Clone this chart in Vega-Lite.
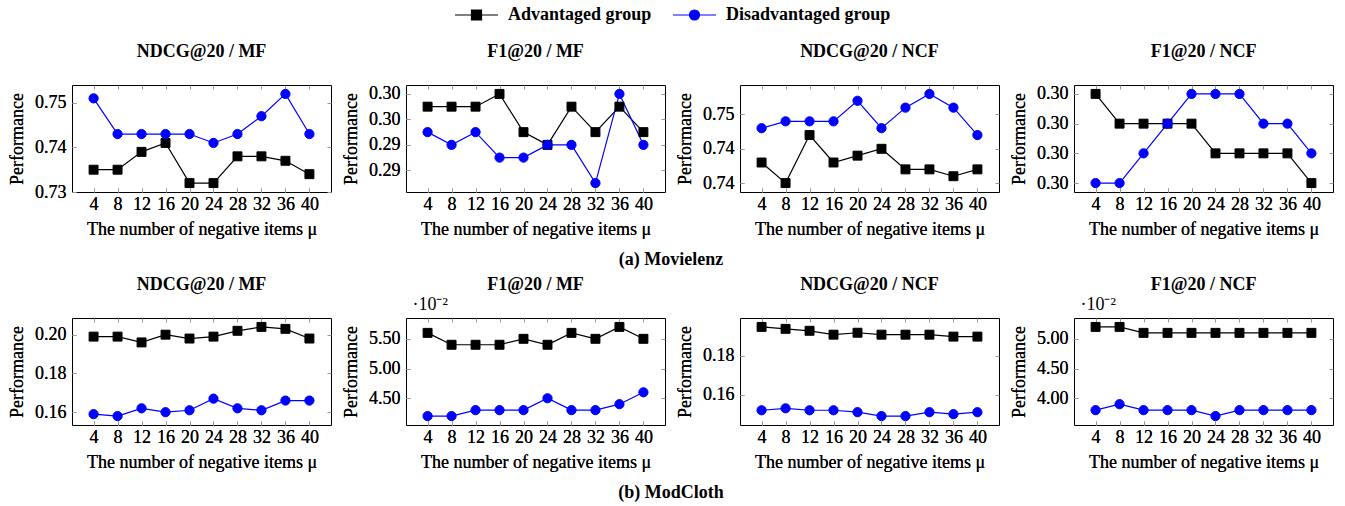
{
  "$schema": "https://vega.github.io/schema/vega-lite/v6.json",
  "padding": {"left": 8, "top": 6, "right": 5, "bottom": 3},
  "data": {"values": [
    {"p":"A1","group":"Advantaged group","mu":4,"v":0.735},{"p":"A1","group":"Advantaged group","mu":8,"v":0.735},{"p":"A1","group":"Advantaged group","mu":12,"v":0.739},{"p":"A1","group":"Advantaged group","mu":16,"v":0.741},{"p":"A1","group":"Advantaged group","mu":20,"v":0.732},{"p":"A1","group":"Advantaged group","mu":24,"v":0.732},{"p":"A1","group":"Advantaged group","mu":28,"v":0.738},{"p":"A1","group":"Advantaged group","mu":32,"v":0.738},{"p":"A1","group":"Advantaged group","mu":36,"v":0.737},{"p":"A1","group":"Advantaged group","mu":40,"v":0.734},
    {"p":"A1","group":"Disadvantaged group","mu":4,"v":0.751},{"p":"A1","group":"Disadvantaged group","mu":8,"v":0.743},{"p":"A1","group":"Disadvantaged group","mu":12,"v":0.743},{"p":"A1","group":"Disadvantaged group","mu":16,"v":0.743},{"p":"A1","group":"Disadvantaged group","mu":20,"v":0.743},{"p":"A1","group":"Disadvantaged group","mu":24,"v":0.741},{"p":"A1","group":"Disadvantaged group","mu":28,"v":0.743},{"p":"A1","group":"Disadvantaged group","mu":32,"v":0.747},{"p":"A1","group":"Disadvantaged group","mu":36,"v":0.752},{"p":"A1","group":"Disadvantaged group","mu":40,"v":0.743},
    {"p":"A2","group":"Advantaged group","mu":4,"v":0.297},{"p":"A2","group":"Advantaged group","mu":8,"v":0.297},{"p":"A2","group":"Advantaged group","mu":12,"v":0.297},{"p":"A2","group":"Advantaged group","mu":16,"v":0.298},{"p":"A2","group":"Advantaged group","mu":20,"v":0.295},{"p":"A2","group":"Advantaged group","mu":24,"v":0.294},{"p":"A2","group":"Advantaged group","mu":28,"v":0.297},{"p":"A2","group":"Advantaged group","mu":32,"v":0.295},{"p":"A2","group":"Advantaged group","mu":36,"v":0.297},{"p":"A2","group":"Advantaged group","mu":40,"v":0.295},
    {"p":"A2","group":"Disadvantaged group","mu":4,"v":0.295},{"p":"A2","group":"Disadvantaged group","mu":8,"v":0.294},{"p":"A2","group":"Disadvantaged group","mu":12,"v":0.295},{"p":"A2","group":"Disadvantaged group","mu":16,"v":0.293},{"p":"A2","group":"Disadvantaged group","mu":20,"v":0.293},{"p":"A2","group":"Disadvantaged group","mu":24,"v":0.294},{"p":"A2","group":"Disadvantaged group","mu":28,"v":0.294},{"p":"A2","group":"Disadvantaged group","mu":32,"v":0.291},{"p":"A2","group":"Disadvantaged group","mu":36,"v":0.298},{"p":"A2","group":"Disadvantaged group","mu":40,"v":0.294},
    {"p":"A3","group":"Advantaged group","mu":4,"v":0.7432},{"p":"A3","group":"Advantaged group","mu":8,"v":0.742},{"p":"A3","group":"Advantaged group","mu":12,"v":0.7448},{"p":"A3","group":"Advantaged group","mu":16,"v":0.7432},{"p":"A3","group":"Advantaged group","mu":20,"v":0.7436},{"p":"A3","group":"Advantaged group","mu":24,"v":0.744},{"p":"A3","group":"Advantaged group","mu":28,"v":0.7428},{"p":"A3","group":"Advantaged group","mu":32,"v":0.7428},{"p":"A3","group":"Advantaged group","mu":36,"v":0.7424},{"p":"A3","group":"Advantaged group","mu":40,"v":0.7428},
    {"p":"A3","group":"Disadvantaged group","mu":4,"v":0.7452},{"p":"A3","group":"Disadvantaged group","mu":8,"v":0.7456},{"p":"A3","group":"Disadvantaged group","mu":12,"v":0.7456},{"p":"A3","group":"Disadvantaged group","mu":16,"v":0.7456},{"p":"A3","group":"Disadvantaged group","mu":20,"v":0.7468},{"p":"A3","group":"Disadvantaged group","mu":24,"v":0.7452},{"p":"A3","group":"Disadvantaged group","mu":28,"v":0.7464},{"p":"A3","group":"Disadvantaged group","mu":32,"v":0.7472},{"p":"A3","group":"Disadvantaged group","mu":36,"v":0.7464},{"p":"A3","group":"Disadvantaged group","mu":40,"v":0.7448},
    {"p":"A4","group":"Advantaged group","mu":4,"v":0.3003},{"p":"A4","group":"Advantaged group","mu":8,"v":0.3002},{"p":"A4","group":"Advantaged group","mu":12,"v":0.3002},{"p":"A4","group":"Advantaged group","mu":16,"v":0.3002},{"p":"A4","group":"Advantaged group","mu":20,"v":0.3002},{"p":"A4","group":"Advantaged group","mu":24,"v":0.3001},{"p":"A4","group":"Advantaged group","mu":28,"v":0.3001},{"p":"A4","group":"Advantaged group","mu":32,"v":0.3001},{"p":"A4","group":"Advantaged group","mu":36,"v":0.3001},{"p":"A4","group":"Advantaged group","mu":40,"v":0.3},
    {"p":"A4","group":"Disadvantaged group","mu":4,"v":0.3},{"p":"A4","group":"Disadvantaged group","mu":8,"v":0.3},{"p":"A4","group":"Disadvantaged group","mu":12,"v":0.3001},{"p":"A4","group":"Disadvantaged group","mu":16,"v":0.3002},{"p":"A4","group":"Disadvantaged group","mu":20,"v":0.3003},{"p":"A4","group":"Disadvantaged group","mu":24,"v":0.3003},{"p":"A4","group":"Disadvantaged group","mu":28,"v":0.3003},{"p":"A4","group":"Disadvantaged group","mu":32,"v":0.3002},{"p":"A4","group":"Disadvantaged group","mu":36,"v":0.3002},{"p":"A4","group":"Disadvantaged group","mu":40,"v":0.3001},
    {"p":"B1","group":"Advantaged group","mu":4,"v":0.199},{"p":"B1","group":"Advantaged group","mu":8,"v":0.199},{"p":"B1","group":"Advantaged group","mu":12,"v":0.196},{"p":"B1","group":"Advantaged group","mu":16,"v":0.2},{"p":"B1","group":"Advantaged group","mu":20,"v":0.198},{"p":"B1","group":"Advantaged group","mu":24,"v":0.199},{"p":"B1","group":"Advantaged group","mu":28,"v":0.202},{"p":"B1","group":"Advantaged group","mu":32,"v":0.204},{"p":"B1","group":"Advantaged group","mu":36,"v":0.203},{"p":"B1","group":"Advantaged group","mu":40,"v":0.198},
    {"p":"B1","group":"Disadvantaged group","mu":4,"v":0.159},{"p":"B1","group":"Disadvantaged group","mu":8,"v":0.158},{"p":"B1","group":"Disadvantaged group","mu":12,"v":0.162},{"p":"B1","group":"Disadvantaged group","mu":16,"v":0.16},{"p":"B1","group":"Disadvantaged group","mu":20,"v":0.161},{"p":"B1","group":"Disadvantaged group","mu":24,"v":0.167},{"p":"B1","group":"Disadvantaged group","mu":28,"v":0.162},{"p":"B1","group":"Disadvantaged group","mu":32,"v":0.161},{"p":"B1","group":"Disadvantaged group","mu":36,"v":0.166},{"p":"B1","group":"Disadvantaged group","mu":40,"v":0.166},
    {"p":"B2","group":"Advantaged group","mu":4,"v":0.056},{"p":"B2","group":"Advantaged group","mu":8,"v":0.054},{"p":"B2","group":"Advantaged group","mu":12,"v":0.054},{"p":"B2","group":"Advantaged group","mu":16,"v":0.054},{"p":"B2","group":"Advantaged group","mu":20,"v":0.055},{"p":"B2","group":"Advantaged group","mu":24,"v":0.054},{"p":"B2","group":"Advantaged group","mu":28,"v":0.056},{"p":"B2","group":"Advantaged group","mu":32,"v":0.055},{"p":"B2","group":"Advantaged group","mu":36,"v":0.057},{"p":"B2","group":"Advantaged group","mu":40,"v":0.055},
    {"p":"B2","group":"Disadvantaged group","mu":4,"v":0.042},{"p":"B2","group":"Disadvantaged group","mu":8,"v":0.042},{"p":"B2","group":"Disadvantaged group","mu":12,"v":0.043},{"p":"B2","group":"Disadvantaged group","mu":16,"v":0.043},{"p":"B2","group":"Disadvantaged group","mu":20,"v":0.043},{"p":"B2","group":"Disadvantaged group","mu":24,"v":0.045},{"p":"B2","group":"Disadvantaged group","mu":28,"v":0.043},{"p":"B2","group":"Disadvantaged group","mu":32,"v":0.043},{"p":"B2","group":"Disadvantaged group","mu":36,"v":0.044},{"p":"B2","group":"Disadvantaged group","mu":40,"v":0.046},
    {"p":"B3","group":"Advantaged group","mu":4,"v":0.195},{"p":"B3","group":"Advantaged group","mu":8,"v":0.194},{"p":"B3","group":"Advantaged group","mu":12,"v":0.193},{"p":"B3","group":"Advantaged group","mu":16,"v":0.191},{"p":"B3","group":"Advantaged group","mu":20,"v":0.192},{"p":"B3","group":"Advantaged group","mu":24,"v":0.191},{"p":"B3","group":"Advantaged group","mu":28,"v":0.191},{"p":"B3","group":"Advantaged group","mu":32,"v":0.191},{"p":"B3","group":"Advantaged group","mu":36,"v":0.19},{"p":"B3","group":"Advantaged group","mu":40,"v":0.19},
    {"p":"B3","group":"Disadvantaged group","mu":4,"v":0.152},{"p":"B3","group":"Disadvantaged group","mu":8,"v":0.153},{"p":"B3","group":"Disadvantaged group","mu":12,"v":0.152},{"p":"B3","group":"Disadvantaged group","mu":16,"v":0.152},{"p":"B3","group":"Disadvantaged group","mu":20,"v":0.151},{"p":"B3","group":"Disadvantaged group","mu":24,"v":0.149},{"p":"B3","group":"Disadvantaged group","mu":28,"v":0.149},{"p":"B3","group":"Disadvantaged group","mu":32,"v":0.151},{"p":"B3","group":"Disadvantaged group","mu":36,"v":0.15},{"p":"B3","group":"Disadvantaged group","mu":40,"v":0.151},
    {"p":"B4","group":"Advantaged group","mu":4,"v":0.052},{"p":"B4","group":"Advantaged group","mu":8,"v":0.052},{"p":"B4","group":"Advantaged group","mu":12,"v":0.051},{"p":"B4","group":"Advantaged group","mu":16,"v":0.051},{"p":"B4","group":"Advantaged group","mu":20,"v":0.051},{"p":"B4","group":"Advantaged group","mu":24,"v":0.051},{"p":"B4","group":"Advantaged group","mu":28,"v":0.051},{"p":"B4","group":"Advantaged group","mu":32,"v":0.051},{"p":"B4","group":"Advantaged group","mu":36,"v":0.051},{"p":"B4","group":"Advantaged group","mu":40,"v":0.051},
    {"p":"B4","group":"Disadvantaged group","mu":4,"v":0.038},{"p":"B4","group":"Disadvantaged group","mu":8,"v":0.039},{"p":"B4","group":"Disadvantaged group","mu":12,"v":0.038},{"p":"B4","group":"Disadvantaged group","mu":16,"v":0.038},{"p":"B4","group":"Disadvantaged group","mu":20,"v":0.038},{"p":"B4","group":"Disadvantaged group","mu":24,"v":0.037},{"p":"B4","group":"Disadvantaged group","mu":28,"v":0.038},{"p":"B4","group":"Disadvantaged group","mu":32,"v":0.038},{"p":"B4","group":"Disadvantaged group","mu":36,"v":0.038},{"p":"B4","group":"Disadvantaged group","mu":40,"v":0.038}
  ]},
  "vconcat": [
    {
      "title": {"text": "(a) Movielenz", "orient": "bottom", "anchor": "middle", "offset": 12},
      "spacing": 10,
      "hconcat": [
        {
          "width": 259, "height": 107, "title": "NDCG@20 / MF",
          "transform": [{"filter": "datum.p === 'A1'"}],
          "encoding": {
            "x": {"field": "mu", "type": "quantitative", "scale": {"domain": [0.4, 43.6], "nice": false, "zero": false}, "axis": {"values": [4,8,12,16,20,24,28,32,36,40], "title": "The number of negative items μ"}},
            "y": {"field": "v", "type": "quantitative", "scale": {"domain": [0.73, 0.754], "nice": false, "zero": false}, "axis": {"values": [0.73, 0.74, 0.75], "format": ".2f", "title": "Performance"}},
            "stroke": {"field": "group", "type": "nominal", "title": null, "scale": {"domain": ["Advantaged group", "Disadvantaged group"], "range": ["black", "#0000ff"]},
              "legend": {"title": null, "encode": {"symbols": {"update": {
                "shape": {"signal": "datum.value === 'Advantaged group' ? 'M-1,0H7.6M2.3,-1H4.3V1H2.3Z' : 'M-1,0H7.6M4.3,0A1,1,0,1,1,2.3,0A1,1,0,1,1,4.3,0Z'"},
                "strokeWidth": {"value": 1.2}}}}}}
          },
          "layer": [
            {"mark": {"type": "line", "strokeWidth": 1.2}},
            {"transform": [{"filter": "datum.group === 'Advantaged group'"}],
             "mark": {"type": "point", "shape": "square", "filled": true, "opacity": 1, "size": 80, "strokeWidth": 1},
             "encoding": {
               "x": {"field": "mu", "type": "quantitative", "axis": {"orient": "top", "values": [4,8,12,16,20,24,28,32,36,40], "title": " "}},
               "y": {"field": "v", "type": "quantitative", "axis": {"orient": "right", "values": [0.73, 0.74, 0.75], "title": null}},
               "fill": {"field": "group", "type": "nominal", "title": null, "scale": {"domain": ["Advantaged group", "Disadvantaged group"], "range": ["black", "#0000ff"]},
                 "legend": {"title": null, "encode": {"symbols": {"update": {
                   "shape": {"signal": "datum.value === 'Advantaged group' ? 'M-1,0H7.6M2.3,-1H4.3V1H2.3Z' : 'M-1,0H7.6M4.3,0A1,1,0,1,1,2.3,0A1,1,0,1,1,4.3,0Z'"},
                   "strokeWidth": {"value": 1.2}}}}}}
             }},
            {"transform": [{"filter": "datum.group === 'Disadvantaged group'"}],
             "mark": {"type": "point", "shape": "circle", "filled": true, "opacity": 1, "size": 85, "strokeWidth": 1},
             "encoding": {
               "fill": {"field": "group", "type": "nominal", "title": null, "scale": {"domain": ["Advantaged group", "Disadvantaged group"], "range": ["black", "#0000ff"]},
                 "legend": {"title": null, "encode": {"symbols": {"update": {
                   "shape": {"signal": "datum.value === 'Advantaged group' ? 'M-1,0H7.6M2.3,-1H4.3V1H2.3Z' : 'M-1,0H7.6M4.3,0A1,1,0,1,1,2.3,0A1,1,0,1,1,4.3,0Z'"},
                   "strokeWidth": {"value": 1.2}}}}}}
             }}
          ],
          "resolve": {"axis": {"x": "independent", "y": "independent"}}
        },
        {
          "width": 259, "height": 107, "title": "F1@20 / MF",
          "transform": [{"filter": "datum.p === 'A2'"}],
          "encoding": {
            "x": {"field": "mu", "type": "quantitative", "scale": {"domain": [0.4, 43.6], "nice": false, "zero": false}, "axis": {"values": [4,8,12,16,20,24,28,32,36,40], "title": "The number of negative items μ"}},
            "y": {"field": "v", "type": "quantitative", "scale": {"domain": [0.2903, 0.2987], "nice": false, "zero": false}, "axis": {"values": [0.292, 0.294, 0.296, 0.298], "format": ".2f", "title": "Performance"}},
            "stroke": {"field": "group", "type": "nominal", "title": null, "scale": {"domain": ["Advantaged group", "Disadvantaged group"], "range": ["black", "#0000ff"]}},
            "fill": {"field": "group", "type": "nominal", "title": null, "scale": {"domain": ["Advantaged group", "Disadvantaged group"], "range": ["black", "#0000ff"]}}
          },
          "layer": [
            {"mark": {"type": "line", "strokeWidth": 1.2, "fill": null}, "encoding": {"fill": {"value": null}}},
            {"transform": [{"filter": "datum.group === 'Advantaged group'"}],
             "mark": {"type": "point", "shape": "square", "filled": true, "opacity": 1, "size": 80, "strokeWidth": 1},
             "encoding": {
               "x": {"field": "mu", "type": "quantitative", "axis": {"orient": "top", "values": [4,8,12,16,20,24,28,32,36,40], "title": " "}},
               "y": {"field": "v", "type": "quantitative", "axis": {"orient": "right", "values": [0.292, 0.294, 0.296, 0.298], "title": null}}
             }},
            {"transform": [{"filter": "datum.group === 'Disadvantaged group'"}],
             "mark": {"type": "point", "shape": "circle", "filled": true, "opacity": 1, "size": 85, "strokeWidth": 1}}
          ],
          "resolve": {"axis": {"x": "independent", "y": "independent"}}
        },
        {
          "width": 259, "height": 107, "title": "NDCG@20 / NCF",
          "transform": [{"filter": "datum.p === 'A3'"}],
          "encoding": {
            "x": {"field": "mu", "type": "quantitative", "scale": {"domain": [0.4, 43.6], "nice": false, "zero": false}, "axis": {"values": [4,8,12,16,20,24,28,32,36,40], "title": "The number of negative items μ"}},
            "y": {"field": "v", "type": "quantitative", "scale": {"domain": [0.74148, 0.74772], "nice": false, "zero": false}, "axis": {"values": [0.742, 0.744, 0.746], "format": ".2f", "title": "Performance"}},
            "stroke": {"field": "group", "type": "nominal", "title": null, "scale": {"domain": ["Advantaged group", "Disadvantaged group"], "range": ["black", "#0000ff"]}},
            "fill": {"field": "group", "type": "nominal", "title": null, "scale": {"domain": ["Advantaged group", "Disadvantaged group"], "range": ["black", "#0000ff"]}}
          },
          "layer": [
            {"mark": {"type": "line", "strokeWidth": 1.2}, "encoding": {"fill": {"value": null}}},
            {"transform": [{"filter": "datum.group === 'Advantaged group'"}],
             "mark": {"type": "point", "shape": "square", "filled": true, "opacity": 1, "size": 80, "strokeWidth": 1},
             "encoding": {
               "x": {"field": "mu", "type": "quantitative", "axis": {"orient": "top", "values": [4,8,12,16,20,24,28,32,36,40], "title": " "}},
               "y": {"field": "v", "type": "quantitative", "axis": {"orient": "right", "values": [0.742, 0.744, 0.746], "title": null}}
             }},
            {"transform": [{"filter": "datum.group === 'Disadvantaged group'"}],
             "mark": {"type": "point", "shape": "circle", "filled": true, "opacity": 1, "size": 85, "strokeWidth": 1}}
          ],
          "resolve": {"axis": {"x": "independent", "y": "independent"}}
        },
        {
          "width": 259, "height": 107, "title": "F1@20 / NCF",
          "transform": [{"filter": "datum.p === 'A4'"}],
          "encoding": {
            "x": {"field": "mu", "type": "quantitative", "scale": {"domain": [0.4, 43.6], "nice": false, "zero": false}, "axis": {"values": [4,8,12,16,20,24,28,32,36,40], "title": "The number of negative items μ"}},
            "y": {"field": "v", "type": "quantitative", "scale": {"domain": [0.29997, 0.30033], "nice": false, "zero": false}, "axis": {"values": [0.3, 0.3001, 0.3002, 0.3003], "format": ".2f", "title": "Performance"}},
            "stroke": {"field": "group", "type": "nominal", "title": null, "scale": {"domain": ["Advantaged group", "Disadvantaged group"], "range": ["black", "#0000ff"]}},
            "fill": {"field": "group", "type": "nominal", "title": null, "scale": {"domain": ["Advantaged group", "Disadvantaged group"], "range": ["black", "#0000ff"]}}
          },
          "layer": [
            {"mark": {"type": "line", "strokeWidth": 1.2}, "encoding": {"fill": {"value": null}}},
            {"transform": [{"filter": "datum.group === 'Advantaged group'"}],
             "mark": {"type": "point", "shape": "square", "filled": true, "opacity": 1, "size": 80, "strokeWidth": 1},
             "encoding": {
               "x": {"field": "mu", "type": "quantitative", "axis": {"orient": "top", "values": [4,8,12,16,20,24,28,32,36,40], "title": " "}},
               "y": {"field": "v", "type": "quantitative", "axis": {"orient": "right", "values": [0.3, 0.3001, 0.3002, 0.3003], "title": null}}
             }},
            {"transform": [{"filter": "datum.group === 'Disadvantaged group'"}],
             "mark": {"type": "point", "shape": "circle", "filled": true, "opacity": 1, "size": 85, "strokeWidth": 1}}
          ],
          "resolve": {"axis": {"x": "independent", "y": "independent"}}
        }
      ]
    },
    {
      "title": {"text": "(b) ModCloth", "orient": "bottom", "anchor": "middle", "offset": 12},
      "spacing": 10,
      "hconcat": [
        {
          "width": 259, "height": 107, "title": "NDCG@20 / MF",
          "transform": [{"filter": "datum.p === 'B1'"}],
          "encoding": {
            "x": {"field": "mu", "type": "quantitative", "scale": {"domain": [0.4, 43.6], "nice": false, "zero": false}, "axis": {"values": [4,8,12,16,20,24,28,32,36,40], "title": "The number of negative items μ"}},
            "y": {"field": "v", "type": "quantitative", "scale": {"domain": [0.1534, 0.2086], "nice": false, "zero": false}, "axis": {"values": [0.16, 0.18, 0.2], "format": ".2f", "title": "Performance"}},
            "stroke": {"field": "group", "type": "nominal", "title": null, "scale": {"domain": ["Advantaged group", "Disadvantaged group"], "range": ["black", "#0000ff"]}},
            "fill": {"field": "group", "type": "nominal", "title": null, "scale": {"domain": ["Advantaged group", "Disadvantaged group"], "range": ["black", "#0000ff"]}}
          },
          "layer": [
            {"mark": {"type": "line", "strokeWidth": 1.2}, "encoding": {"fill": {"value": null}}},
            {"transform": [{"filter": "datum.group === 'Advantaged group'"}],
             "mark": {"type": "point", "shape": "square", "filled": true, "opacity": 1, "size": 80, "strokeWidth": 1},
             "encoding": {
               "x": {"field": "mu", "type": "quantitative", "axis": {"orient": "top", "values": [4,8,12,16,20,24,28,32,36,40], "title": " "}},
               "y": {"field": "v", "type": "quantitative", "axis": {"orient": "right", "values": [0.16, 0.18, 0.2], "title": null}}
             }},
            {"transform": [{"filter": "datum.group === 'Disadvantaged group'"}],
             "mark": {"type": "point", "shape": "circle", "filled": true, "opacity": 1, "size": 85, "strokeWidth": 1}}
          ],
          "resolve": {"axis": {"x": "independent", "y": "independent"}}
        },
        {
          "width": 259, "height": 107, "title": "F1@20 / MF",
          "transform": [{"filter": "datum.p === 'B2'"}],
          "encoding": {
            "x": {"field": "mu", "type": "quantitative", "scale": {"domain": [0.4, 43.6], "nice": false, "zero": false}, "axis": {"values": [4,8,12,16,20,24,28,32,36,40], "title": "The number of negative items μ"}},
            "y": {"field": "v", "type": "quantitative", "scale": {"domain": [0.0405, 0.0585], "nice": false, "zero": false}, "axis": {"values": [0.045, 0.05, 0.055], "labelExpr": "format(datum.value * 100, '.2f')", "title": "Performance"}},
            "stroke": {"field": "group", "type": "nominal", "title": null, "scale": {"domain": ["Advantaged group", "Disadvantaged group"], "range": ["black", "#0000ff"]}},
            "fill": {"field": "group", "type": "nominal", "title": null, "scale": {"domain": ["Advantaged group", "Disadvantaged group"], "range": ["black", "#0000ff"]}}
          },
          "layer": [
            {"mark": {"type": "line", "strokeWidth": 1.2}, "encoding": {"fill": {"value": null}}},
            {"transform": [{"filter": "datum.group === 'Advantaged group'"}],
             "mark": {"type": "point", "shape": "square", "filled": true, "opacity": 1, "size": 80, "strokeWidth": 1},
             "encoding": {
               "x": {"field": "mu", "type": "quantitative", "axis": {"orient": "top", "values": [4,8,12,16,20,24,28,32,36,40], "title": "·10⁻²"}},
               "y": {"field": "v", "type": "quantitative", "axis": {"orient": "right", "values": [0.045, 0.05, 0.055], "title": null}}
             }},
            {"transform": [{"filter": "datum.group === 'Disadvantaged group'"}],
             "mark": {"type": "point", "shape": "circle", "filled": true, "opacity": 1, "size": 85, "strokeWidth": 1}}
          ],
          "resolve": {"axis": {"x": "independent", "y": "independent"}}
        },
        {
          "width": 259, "height": 107, "title": "NDCG@20 / NCF",
          "transform": [{"filter": "datum.p === 'B3'"}],
          "encoding": {
            "x": {"field": "mu", "type": "quantitative", "scale": {"domain": [0.4, 43.6], "nice": false, "zero": false}, "axis": {"values": [4,8,12,16,20,24,28,32,36,40], "title": "The number of negative items μ"}},
            "y": {"field": "v", "type": "quantitative", "scale": {"domain": [0.1444, 0.1996], "nice": false, "zero": false}, "axis": {"values": [0.16, 0.18], "format": ".2f", "title": "Performance"}},
            "stroke": {"field": "group", "type": "nominal", "title": null, "scale": {"domain": ["Advantaged group", "Disadvantaged group"], "range": ["black", "#0000ff"]}},
            "fill": {"field": "group", "type": "nominal", "title": null, "scale": {"domain": ["Advantaged group", "Disadvantaged group"], "range": ["black", "#0000ff"]}}
          },
          "layer": [
            {"mark": {"type": "line", "strokeWidth": 1.2}, "encoding": {"fill": {"value": null}}},
            {"transform": [{"filter": "datum.group === 'Advantaged group'"}],
             "mark": {"type": "point", "shape": "square", "filled": true, "opacity": 1, "size": 80, "strokeWidth": 1},
             "encoding": {
               "x": {"field": "mu", "type": "quantitative", "axis": {"orient": "top", "values": [4,8,12,16,20,24,28,32,36,40], "title": " "}},
               "y": {"field": "v", "type": "quantitative", "axis": {"orient": "right", "values": [0.16, 0.18], "title": null}}
             }},
            {"transform": [{"filter": "datum.group === 'Disadvantaged group'"}],
             "mark": {"type": "point", "shape": "circle", "filled": true, "opacity": 1, "size": 85, "strokeWidth": 1}}
          ],
          "resolve": {"axis": {"x": "independent", "y": "independent"}}
        },
        {
          "width": 259, "height": 107, "title": "F1@20 / NCF",
          "transform": [{"filter": "datum.p === 'B4'"}],
          "encoding": {
            "x": {"field": "mu", "type": "quantitative", "scale": {"domain": [0.4, 43.6], "nice": false, "zero": false}, "axis": {"values": [4,8,12,16,20,24,28,32,36,40], "title": "The number of negative items μ"}},
            "y": {"field": "v", "type": "quantitative", "scale": {"domain": [0.0355, 0.0535], "nice": false, "zero": false}, "axis": {"values": [0.04, 0.045, 0.05], "labelExpr": "format(datum.value * 100, '.2f')", "title": "Performance"}},
            "stroke": {"field": "group", "type": "nominal", "title": null, "scale": {"domain": ["Advantaged group", "Disadvantaged group"], "range": ["black", "#0000ff"]}},
            "fill": {"field": "group", "type": "nominal", "title": null, "scale": {"domain": ["Advantaged group", "Disadvantaged group"], "range": ["black", "#0000ff"]}}
          },
          "layer": [
            {"mark": {"type": "line", "strokeWidth": 1.2}, "encoding": {"fill": {"value": null}}},
            {"transform": [{"filter": "datum.group === 'Advantaged group'"}],
             "mark": {"type": "point", "shape": "square", "filled": true, "opacity": 1, "size": 80, "strokeWidth": 1},
             "encoding": {
               "x": {"field": "mu", "type": "quantitative", "axis": {"orient": "top", "values": [4,8,12,16,20,24,28,32,36,40], "title": "·10⁻²"}},
               "y": {"field": "v", "type": "quantitative", "axis": {"orient": "right", "values": [0.04, 0.045, 0.05], "title": null}}
             }},
            {"transform": [{"filter": "datum.group === 'Disadvantaged group'"}],
             "mark": {"type": "point", "shape": "circle", "filled": true, "opacity": 1, "size": 85, "strokeWidth": 1}}
          ],
          "resolve": {"axis": {"x": "independent", "y": "independent"}}
        }
      ]
    }
  ],
  "spacing": 6,
  "config": {
    "font": "Liberation Serif",
    "view": {"stroke": "black", "strokeWidth": 1},
    "title": {"fontSize": 18, "fontWeight": "bold", "color": "black", "offset": 2},
    "legend": {"orient": "top", "direction": "horizontal", "symbolSize": 100, "symbolStrokeWidth": 1.2, "labelOffset": 39, "columnPadding": 17, "labelLimit": 400, "labelFontSize": 18, "labelFontWeight": "bold", "labelColor": "black", "layout": {"top": {"anchor": "middle"}}},
    "axis": {"domain": false, "grid": false, "tickColor": "#999", "tickSize": -4, "tickWidth": 1, "labelFontSize": 18, "labelColor": "black", "titleFontSize": 18, "titleFontWeight": "normal", "titleColor": "black", "labelPadding": 10, "titlePadding": 8},
    "axisLeft": {"minExtent": 0},
    "axisRight": {"labels": false, "minExtent": 0},
    "axisTop": {"labels": false, "titleAnchor": "start", "titleAlign": "left", "titlePadding": 4, "titleX": 6},
    "axisBottom": {"labelFlush": false, "labelPadding": 7, "titlePadding": 7}
  }
}
